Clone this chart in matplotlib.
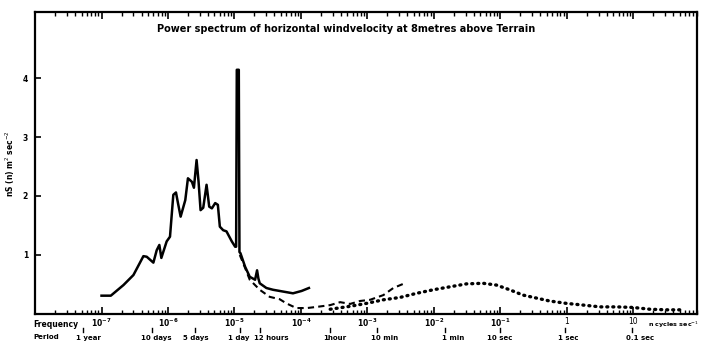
import numpy as np
import matplotlib.pyplot as plt
import matplotlib.transforms as mtransforms
from matplotlib.ticker import LogLocator, NullFormatter, FixedLocator

# log10 of frequency (cycles/sec) and spectral density nS(n) in m^2 sec^-2
solid_logf = [-7.00, -6.86, -6.67, -6.52, -6.37, -6.32, -6.22, -6.17, -6.13, -6.10,
              -6.02, -5.97, -5.92, -5.88, -5.85, -5.81, -5.74, -5.70, -5.64, -5.61,
              -5.57, -5.54, -5.51, -5.47, -5.42, -5.38, -5.34, -5.29, -5.25, -5.22,
              -5.17, -5.12, -5.04, -4.99, -4.975, -4.965, -4.935, -4.925, -4.91,
              -4.84, -4.77, -4.69, -4.66, -4.64, -4.62, -4.52, -4.42, -4.27, -4.12,
              -3.99, -3.88]
solid_val = [0.31, 0.31, 0.49, 0.66, 0.98, 0.97, 0.87, 1.08, 1.17, 0.95,
             1.23, 1.31, 2.02, 2.06, 1.88, 1.65, 1.93, 2.30, 2.24, 2.14,
             2.61, 2.24, 1.76, 1.80, 2.19, 1.82, 1.79, 1.88, 1.85, 1.48,
             1.42, 1.40, 1.23, 1.14, 1.14, 4.14, 4.14, 1.05, 1.03,
             0.80, 0.63, 0.58, 0.74, 0.60, 0.52, 0.44, 0.41, 0.38, 0.35,
             0.39, 0.44]

dashed_logf = [-4.92, -4.84, -4.77, -4.62, -4.47, -4.32, -4.22, -4.07, -3.91, -3.76,
               -3.56, -3.41, -3.26, -3.11, -2.96, -2.76, -2.61, -2.44]
dashed_val = [1.00, 0.78, 0.58, 0.41, 0.29, 0.25, 0.18, 0.10, 0.10, 0.12,
              0.15, 0.20, 0.17, 0.22, 0.24, 0.32, 0.44, 0.52]

dotted_logf = [-3.56, -3.26, -3.01, -2.76, -2.51, -2.26, -2.01, -1.76, -1.51, -1.26,
               -1.06, -0.86, -0.66, -0.46, -0.26, -0.01, 0.25, 0.50, 0.75, 1.00,
               1.25, 1.50, 1.75]
dotted_val = [0.08, 0.13, 0.18, 0.24, 0.28, 0.35, 0.41, 0.46, 0.51, 0.52,
              0.49, 0.41, 0.32, 0.27, 0.22, 0.18, 0.15, 0.12, 0.12, 0.11,
              0.08, 0.07, 0.07]

decade_exp = [-7, -6, -5, -4, -3, -2, -1, 0, 1]
decade_labels = [r"$\mathbf{10^{-7}}$", r"$\mathbf{10^{-6}}$", r"$\mathbf{10^{-5}}$",
                 r"$\mathbf{10^{-4}}$", r"$\mathbf{10^{-3}}$", r"$\mathbf{10^{-2}}$",
                 r"$\mathbf{10^{-1}}$", "1", "10"]

# period markers: tick position and label centre, both as log10 frequency
period_tick = [-7.28, -6.24, -5.59, -4.92, -4.62, -3.56, -2.86, -1.84, -1.01, -0.03, 0.98]
period_text = [-7.19, -6.17, -5.58, -4.93, -4.45, -3.49, -2.74, -1.71, -1.01, 0.02, 1.10]
period_labels = ["1 year", "10 days", "5 days", "1 day", "12 hours", "1hour",
                 "10 min", "1 min", "10 sec", "1 sec", "0.1 sec"]

y_ticks = [1, 2, 3, 4]

fig = plt.figure(figsize=(7.01, 3.42), dpi=100)
ax = fig.add_axes([0.050, 0.082, 0.944, 0.883])

ax.plot(10 ** np.array(solid_logf), solid_val, color="black", lw=1.8)
ax.plot(10 ** np.array(dashed_logf), dashed_val, color="black", lw=1.5,
        ls=(0, (3, 2)))
ax.plot(10 ** np.array(dotted_logf), dotted_val, color="black", lw=2.4,
        ls=(0, (0.3, 1.5)), dash_capstyle="round")

ax.set_xscale("log")
ax.set_xlim(1e-8, 10 ** 1.955)
ax.set_ylim(0, 5.12)

for s in ax.spines.values():
    s.set_linewidth(1.6)

ax.xaxis.set_major_locator(FixedLocator([10.0 ** e for e in decade_exp]))
ax.set_xticklabels(decade_labels)
ax.xaxis.set_minor_locator(LogLocator(base=10, subs=np.arange(2, 10), numticks=20))
ax.xaxis.set_minor_formatter(NullFormatter())
ax.tick_params(axis="x", which="both", direction="in", top=True, bottom=True,
               labelsize=5.5, pad=2)
ax.tick_params(axis="x", which="major", length=5, width=1.2)
ax.tick_params(axis="x", which="minor", length=3, width=1.0)

ax.set_yticks(y_ticks)
ax.set_yticklabels([str(v) for v in y_ticks], fontweight="bold")
ax.tick_params(axis="y", direction="in", length=4, width=1.2, labelsize=5.5, pad=5)

ax.text(0.47, 0.945, "Power spectrum of horizontal windvelocity at 8metres above Terrain",
        transform=ax.transAxes, ha="center", va="center", fontsize=7,
        fontweight="bold")

fig.text(0.015, 0.52, r"nS (n) m$^{2}$ sec$^{-2}$", rotation=90, ha="center",
         va="center", fontsize=5.5, fontweight="bold")

# frequency / period rows below the axis
trans = mtransforms.blended_transform_factory(ax.transData, ax.transAxes)
ax.text(-0.002, -0.036, "Frequency", transform=ax.transAxes, ha="left", va="center",
        fontsize=5.5, fontweight="bold")
ax.text(-0.002, -0.077, "Period", transform=ax.transAxes, ha="left", va="center",
        fontsize=5, fontweight="bold")
for lf, lt, lab in zip(period_tick, period_text, period_labels):
    x = 10 ** lf
    ax.plot([x, x], [-0.048, -0.060], transform=trans, color="black", lw=1.0,
            clip_on=False)
    ax.text(10 ** lt, -0.078, lab, transform=trans, ha="center", va="center",
            fontsize=5, fontweight="bold")
ax.text(10 ** 1.22, -0.036, r"n cycles sec$^{-1}$", transform=trans, ha="left",
        va="center", fontsize=4.6, fontweight="bold", clip_on=False)

fig.savefig("out.png", dpi=100)
